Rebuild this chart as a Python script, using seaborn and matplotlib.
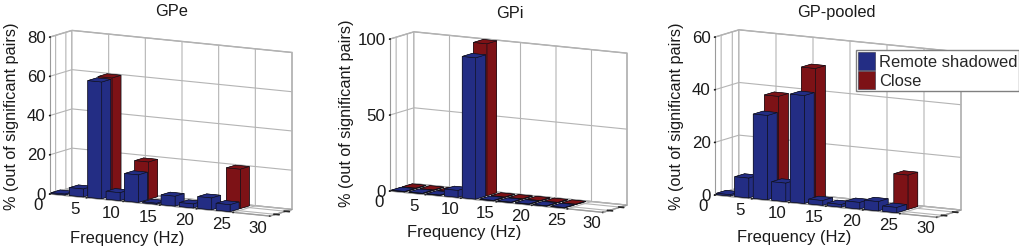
import matplotlib
matplotlib.use("Agg")
import matplotlib.pyplot as plt
import seaborn as sns
from matplotlib.patches import Patch
from mpl_toolkits.mplot3d import proj3d

sns.set_theme(style="white", rc={"grid.color": "#b4b4b4", "grid.linewidth": 0.8,
                                 "grid.linestyle": "-"})
plt.rcParams["font.family"] = ["Liberation Sans", "DejaVu Sans"]

bin_starts = [0, 2.5, 5, 7.5, 10, 12.5, 15, 17.5, 20, 22.5]
freq_ticks = [0, 5, 10, 15, 20, 25, 30]

gpe_remote = [0.5, 4, 59.5, 4, 14, 0.5, 5, 2, 6, 3.5]
gpe_close = [0, 0.5, 60, 0, 19, 0, 0, 0, 0, 20]
gpi_remote = [0.3, 0.3, 0.3, 4.5, 93, 0.3, 0.3, 0.3, 0.3, 0.3]
gpi_close = [0.3, 0.3, 0.3, 0, 100, 0.3, 0.3, 0.3, 0.3, 0.3]
pooled_remote = [0.5, 7.5, 32, 7, 41, 1.8, 1, 2.5, 3.5, 2]
pooled_close = [0, 0.5, 38, 0, 50, 0, 0, 0, 0, 13]

titles = ["GPe", "GPi", "GP-pooled"]
z_ticks = [[0, 20, 40, 60, 80], [0, 50, 100], [0, 20, 40, 60]]
z_tops = [80, 100, 60]
series = [(gpe_remote, gpe_close), (gpi_remote, gpi_close), (pooled_remote, pooled_close)]
legend_labels = ["Remote shadowed", "Close"]

blue, red = sns.color_palette(["#232d84", "#7d1216"])
W, H = 1020, 247

# front-left-bottom corner px, front width px, depth px, wall height px
boxes = [((50, 194), 220, 22, 157), ((390, 191), 213, 24, 152), ((715, 195), 222, 24, 158)]
title_xy = [(172, 12), (510, 14), (836, 12)]
ylabel_xy = [(12, 116), (346, 113), (677, 116)]
xlabel_xy = [(127, 238), (464, 232), (794, 237)]
label_offsets = [(-12, 12), (-11, 11.5), (-11.5, 11.5)]

fig = plt.figure(figsize=(W / 100, H / 100), dpi=100, facecolor="white")


def px_of(ax, x, y, z):
    ax.apply_aspect()
    M = ax.get_proj()
    a, b, _ = proj3d.proj_transform(x, y, z, M)
    return ax.transData.transform((a, b))


for i, (remote, close) in enumerate(series):
    ax = fig.add_axes([0, 0, 300 / W, 300 / H], projection="3d", computed_zorder=False)
    ax.set_proj_type("ortho")
    ax.view_init(elev=10, azim=-60)
    (cx, cy), fw, dw, zh = boxes[i]
    ax.set_box_aspect((fw / 0.866, dw / 0.5, zh / 0.985), zoom=1)
    y0, y1 = 0.45, 2.6
    ax.set_xlim(0, 30)
    ax.set_ylim(y0, y1)
    ax.set_zlim(0, z_tops[i])
    ax.set_xticks(freq_ticks)
    ax.set_xticklabels([])
    ax.set_yticks([1, 2])
    ax.set_yticklabels(["", ""])
    ax.set_zticks(z_ticks[i])
    ax.tick_params(axis="z", labelsize=12.2, colors="#1a1a1a", pad=-6)
    for t in ax.get_zticklabels():
        t.set_ha("right")
        t.set_va("center_baseline")
    ax.zaxis.set_ticks_position("lower")
    ax.zaxis.set_label_position("none")
    for axis in (ax.xaxis, ax.yaxis, ax.zaxis):
        axis.set_pane_color((1, 1, 1, 1))
        axis.pane.set_edgecolor("#a8a8a8")
        axis.line.set_color("#9a9a9a")
        axis.line.set_linewidth(0.8)

    order = 0
    for row, (vals, col) in enumerate(((close, red), (remote, blue))):
        yc = 2 - row
        for xs, v in zip(bin_starts, vals):
            if v <= 0:
                continue
            ax.bar3d(xs, yc - 0.44, 0, 1.9, 0.88, v, color=col, shade=False,
                     edgecolor="#101018", linewidth=0.4, zorder=5 + order)
            order += 1

    # place the square axes so the drawn box lands on its target pixels
    p0 = px_of(ax, 0, y0, 0)
    p1 = px_of(ax, 30, y0, 0)
    scale = fw / (p1[0] - p0[0])
    size = 300 * scale
    ax.set_position([0, 0, size / W, size / H])
    p0 = px_of(ax, 0, y0, 0)
    ax.set_position([(cx - p0[0]) / W, (H - cy - p0[1]) / H, size / W, size / H])

    # frequency labels sit down and to the left of their tick on the front edge
    ox, oy = label_offsets[i]
    for f in freq_ticks:
        px, py = px_of(ax, f, y0, 0)
        fig.text((px + ox) / W, (py - oy) / H, str(f), ha="center", va="center",
                 fontsize=12.2, color="#1a1a1a")

    fig.text(title_xy[i][0] / W, 1 - title_xy[i][1] / H, titles[i], ha="center", va="center",
             fontsize=11.8, color="#1a1a1a")
    fig.text(ylabel_xy[i][0] / W, 1 - ylabel_xy[i][1] / H, "% (out of significant pairs)",
             rotation=90, ha="center", va="center", fontsize=11.7, color="#1a1a1a")
    fig.text(xlabel_xy[i][0] / W, 1 - xlabel_xy[i][1] / H, "Frequency (Hz)", ha="center",
             va="center", fontsize=11.9, color="#1a1a1a")

handles = [Patch(facecolor=blue, edgecolor="#2a2a40", linewidth=0.4),
           Patch(facecolor=red, edgecolor="#2a2a40", linewidth=0.4)]
fig.legend(handles, legend_labels, loc="lower left",
           bbox_to_anchor=(856 / W, 1 - 91 / H, 163 / W, 42 / H), mode="expand", fontsize=11.9,
           fancybox=False, framealpha=1, edgecolor="#808080", handlelength=1.0,
           handleheight=1.3, handletextpad=0.25, labelspacing=0.05, borderpad=0.12,
           borderaxespad=0)

fig.savefig("out.png", dpi=100)
